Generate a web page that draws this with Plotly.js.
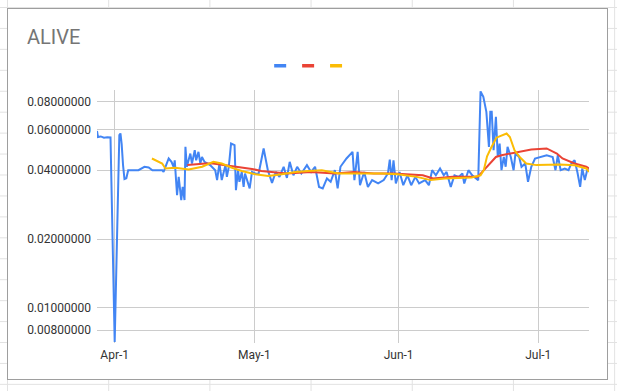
<!DOCTYPE html>
<html>
<head>
<meta charset="utf-8">
<script src="https://cdn.plot.ly/plotly-3.0.1.min.js"></script>
<style>
  html, body { margin:0; padding:0; width:617px; height:391px; overflow:hidden; }
  body {
    background-color:#ffffff;
    background-image:
      linear-gradient(to right, #e2e2e2 1px, transparent 1px),
      linear-gradient(to bottom, #e2e2e2 1px, transparent 1px);
    background-size: 101.2px 20.95px;
    background-position: 7px 7px;
  }
  #box { position:absolute; left:7px; top:8px; width:601px; height:372px; box-sizing:border-box;
         border:1px solid #9e9e9e; background:#ffffff; }
  #chart { position:absolute; left:0; top:0; width:617px; height:391px; }
</style>
</head>
<body>
<div id="box"></div>
<div id="chart"></div>
<script>
// Days are offsets from 2021-04-01
const blueDay = [-3.8,-3.6,-3.0,-2.3,-1.6,-0.9,0,1.0,1.24,1.5,1.8,2.1,2.5,2.9,5.1,6.4,7.3,8.1,10.2,10.5,11.6,12.2,12.7,12.9,13.4,13.75,14.3,14.6,15.0,15.2,15.5,16.25,16.6,17.2,17.5,18.0,18.4,18.75,19.3,19.8,20.5,21.6,22.0,22.5,23.0,23.8,24.1,24.5,25.0,25.75,26.05,26.5,26.8,27.3,27.7,28.0,28.4,29.0,29.5,30.2,30.9,32.0,32.9,33.8,34.6,35.4,36.3,37.0,37.6,38.4,39.2,40.1,41.3,42.2,43.05,43.9,44.7,45.6,46.4,47.3,47.9,48.5,49.8,51.1,51.5,52.2,52.7,53.6,54.4,55.3,56.6,57.8,58.7,59.1,59.5,59.9,60.4,61.2,62.0,62.9,63.7,64.6,65.4,66.7,67.5,68.2,69.0,69.9,70.7,71.3,72.2,73.0,73.9,74.7,75.1,76.0,76.8,78.1,78.6,79.2,79.85,80.4,80.7,81.0,81.4,81.9,82.3,82.7,83.1,83.6,84.0,84.4,85.1,85.7,86.1,86.9,87.4,88.2,88.8,89.5,90.3,91.6,92.8,94.1,94.7,95.2,95.8,96.7,97.5,98.1,98.8,99.4,100.0,100.45,101.0,101.5,101.9];
const blueVal = [0.0594,0.0559,0.0562,0.0555,0.0557,0.0556,0.0071,0.0570,0.0579,0.052,0.042,0.0366,0.0369,0.0400,0.0400,0.0414,0.0411,0.0400,0.0400,0.0393,0.0450,0.0435,0.0412,0.0442,0.0311,0.0374,0.0296,0.0338,0.0296,0.0506,0.0414,0.0473,0.0428,0.0489,0.0442,0.0481,0.0428,0.0457,0.0435,0.0428,0.0421,0.0400,0.0362,0.0428,0.0362,0.0421,0.0374,0.0412,0.0523,0.0515,0.0327,0.0400,0.0356,0.0393,0.0338,0.0387,0.0362,0.0333,0.0393,0.0387,0.0385,0.0498,0.0400,0.0352,0.0393,0.0374,0.0414,0.0370,0.0435,0.0380,0.0414,0.0387,0.0421,0.0393,0.0414,0.0338,0.0333,0.0368,0.0356,0.0400,0.0333,0.0414,0.0450,0.0481,0.0362,0.0481,0.0344,0.0393,0.0338,0.0362,0.0350,0.0362,0.0387,0.0445,0.0362,0.0442,0.0350,0.0393,0.0344,0.0380,0.0344,0.0374,0.0350,0.0362,0.0344,0.0400,0.0380,0.0407,0.0380,0.0393,0.0338,0.0380,0.0374,0.0387,0.0350,0.0400,0.0380,0.0362,0.0885,0.0837,0.0720,0.0506,0.0720,0.0720,0.0489,0.0684,0.0457,0.0523,0.0400,0.0457,0.0414,0.0506,0.0457,0.0400,0.0473,0.0457,0.0414,0.0428,0.0356,0.0414,0.0450,0.0457,0.0465,0.0457,0.0400,0.0465,0.0400,0.0407,0.0400,0.0428,0.0442,0.0393,0.0338,0.0407,0.0362,0.0400,0.0400];

const redDay = [15.6,17.0,19.5,21.1,23.5,25.3,27.5,29.5,31.5,33.8,37.0,42.2,47.3,51.4,55.7,59.9,64.1,66.2,68.4,72.6,78.0,79.3,80.6,81.9,83.1,86.9,89.5,92.8,95.0,96.2,98.8,101.3,101.9];
const redVal = [0.0421,0.0424,0.0428,0.0428,0.0421,0.0417,0.0412,0.0405,0.0397,0.0393,0.0387,0.0393,0.0387,0.0393,0.0387,0.0387,0.0383,0.0380,0.0368,0.0374,0.0374,0.0400,0.0428,0.0457,0.0465,0.0481,0.0493,0.0498,0.0473,0.0450,0.0428,0.0414,0.0407];

const yellowDay = [8.0,10.2,10.9,13.0,15.9,18.8,21.2,23.0,25.2,27.3,30.2,33.0,35.9,38.8,41.6,44.5,48.1,53.1,57.4,60.8,64.9,67.9,70.9,76.7,78.6,79.3,80.0,80.85,82.0,84.2,84.9,85.9,87.0,88.4,90.6,95.6,98.8,101.3,101.9];
const yellowVal = [0.0450,0.0428,0.0407,0.0410,0.0403,0.0414,0.0435,0.0428,0.0410,0.0397,0.0384,0.0377,0.0384,0.0393,0.0397,0.0400,0.0387,0.0387,0.0387,0.0384,0.0374,0.0362,0.0368,0.0372,0.0380,0.0400,0.0460,0.0500,0.0555,0.0579,0.0559,0.0489,0.0457,0.0428,0.0421,0.0424,0.0420,0.0407,0.0393];

const yTickVals = [0.008, 0.01, 0.02, 0.04, 0.06, 0.08];
const yTickText = ['0.00800000','0.01000000','0.02000000','0.04000000','0.06000000','0.08000000'];
const xTickVals = ['2021-04-01','2021-05-01','2021-06-01','2021-07-01'];
const xTickText = ['Apr-1','May-1','Jun-1','Jul-1'];
const seriesColors = ['#4285F4','#EA4335','#FBBC04'];

const base = Date.UTC(2021, 3, 1);
function toDate(d) { return new Date(base + d * 864e5).toISOString().slice(0, 19).replace('T', ' '); }

function mk(days, vals, color) {
  return { x: days.map(toDate), y: vals, type: 'scatter', mode: 'lines',
           line: { color: color, width: 2 }, hoverinfo: 'skip', showlegend: false };
}

const data = [
  mk(blueDay, blueVal, seriesColors[0]),
  mk(redDay, redVal, seriesColors[1]),
  mk(yellowDay, yellowVal, seriesColors[2])
];

// legend swatches (no labels)
const legX = [[0.3601,0.3845],[0.4169,0.4413],[0.4737,0.4981]];
const shapes = legX.map((p, i) => ({ type:'rect', xref:'paper', yref:'paper', x0:p[0], x1:p[1], y0:1.0889, y1:1.1028,
  fillcolor: seriesColors[i], line:{width:0} }));

const layout = {
  width: 617, height: 391,
  margin: { l: 96.5, r: 27.6, t: 90, b: 48 },
  paper_bgcolor: 'rgba(0,0,0,0)', plot_bgcolor: 'rgba(0,0,0,0)',
  font: { family: 'Roboto, Arial, sans-serif', size: 12, color: '#333333' },
  title: { text: 'ALIVE', x: 27/617, xref: 'container', xanchor: 'left', y: 1 - 37/391, yref: 'container', yanchor: 'middle',
           font: { family: 'Roboto, Arial, sans-serif', size: 20, color: '#757575' } },
  xaxis: { type: 'date', range: [toDate(-3.8), toDate(101.9)], tickvals: xTickVals, ticktext: xTickText,
           showgrid: true, gridcolor: '#cccccc', gridwidth: 1, zeroline: false, showline: false, ticks: '',
           ticklabelstandoff: 3,
           tickfont: { size: 12, color: '#333333' }, fixedrange: true },
  yaxis: { type: 'log', range: [Math.log10(0.00702), Math.log10(0.0897)], tickvals: yTickVals, ticktext: yTickText,
           showgrid: true, gridcolor: '#cccccc', gridwidth: 1, zeroline: false, showline: false, ticks: '',
           ticklabelstandoff: 5,
           tickfont: { size: 12, color: '#333333' }, fixedrange: true },
  shapes: shapes
};

Plotly.newPlot('chart', data, layout, { displayModeBar: false, staticPlot: true });
</script>
</body>
</html>
